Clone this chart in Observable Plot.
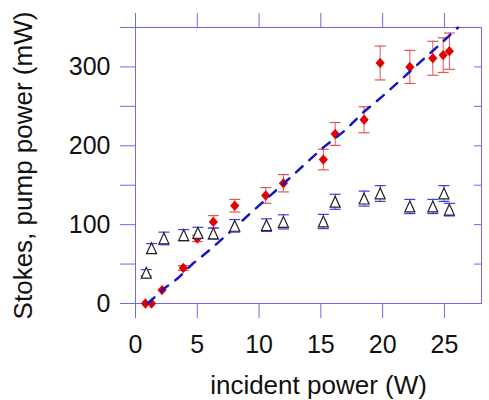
<!DOCTYPE html>
<html><head><meta charset="utf-8">
<script src="https://cdn.jsdelivr.net/npm/d3@7"></script>
<script src="https://cdn.jsdelivr.net/npm/@observablehq/plot@0.6"></script>
<style>body{margin:0;background:#fff}</style>
</head><body><div id="chart"></div>
<script>
// Stokes output (red diamonds)
const stokesX = [0.8, 1.3, 2.15, 3.87, 5.0, 6.3, 8.03, 10.54, 11.97, 15.2, 16.16, 18.5, 19.8, 22.2, 24.06, 24.9, 25.4];
const stokesY = [0, 0, 17, 45, 82.5, 103.5, 124, 137, 152.5, 182.5, 215, 233, 305, 300, 311, 315, 320];
const stokesErr = [0, 0, 0, 3, 4, 8, 8, 10, 11, 13, 14.5, 16.5, 21.5, 21, 21.5, 22, 23];
// residual pump (open triangles)
const pumpX = [0.87, 1.3, 2.3, 3.9, 5.05, 6.3, 8.03, 10.6, 11.97, 15.2, 16.16, 18.5, 19.8, 22.2, 24.06, 24.96, 25.4];
const pumpY = [39, 70, 82.5, 86.7, 89.6, 88.8, 98.5, 99.4, 103.5, 104, 129, 133, 139.5, 123, 123, 139.5, 119];
const pumpErr = [4, 6, 8, 7, 7, 7, 8, 8, 9, 9, 9.5, 9.5, 10, 9, 9, 10, 8];
// dashed model curve
const fitX = [1.0, 2.16, 3.5, 4.6, 6.1, 7.6, 9.2, 12.2, 13.8, 15.2, 17.0, 18.4, 20.0, 21.5, 23.1, 24.6, 26.1];
const fitY = [0, 17, 33, 50, 69, 90, 113, 155, 178, 198, 220, 242, 263, 284, 307, 328, 350];
// ticks
const xTicks = [0, 5, 10, 15, 20, 25];
const yTicks = [0, 50, 100, 150, 200, 250, 300, 350];
const yLabels = [0, 100, 200, 300];
const xLabel = "incident power (W)";
const yLabel = "Stokes, pump power (mW)";

const stokes = stokesX.map((x, i) => ({x, y: stokesY[i], e: stokesErr[i]}));
const pump = pumpX.map((x, i) => ({x, y: pumpY[i], e: pumpErr[i]}));
const fit = fitX.map((x, i) => ({x, y: fitY[i]}));

const axisColor = "#6b6be6";
const red = "#e30000";
const errRed = "#e05555";
const errBlue = "#3b3bee";
const lineBlue = "#1515c8";

const rad = s => Math.sqrt(s / Math.PI);
const diamond = {draw(ctx, size) { const r = rad(size); const hw = r * 1.15, hh = r * 1.3;
  ctx.moveTo(0, -hh); ctx.lineTo(hw, 0); ctx.lineTo(0, hh); ctx.lineTo(-hw, 0); ctx.closePath(); }};
const triangle = {draw(ctx, size) { const r = rad(size); const hw = r * 1.25, hh = r * 1.35;
  ctx.moveTo(0, -hh); ctx.lineTo(hw, hh); ctx.lineTo(-hw, hh); ctx.closePath(); }};
const cap = {draw(ctx, size) { const r = rad(size); ctx.moveTo(-r, 0); ctx.lineTo(r, 0); }};

const errMarks = (data, color) => {
  const d = data.filter(p => p.e > 0);
  return [
    Plot.ruleX(d, {x: "x", y1: p => p.y - p.e, y2: p => p.y + p.e, stroke: color, strokeWidth: 1}),
    Plot.dot(d, {x: "x", y: p => p.y + p.e, symbol: cap, r: 5.5, stroke: color, fill: "none", strokeWidth: 1.2}),
    Plot.dot(d, {x: "x", y: p => p.y - p.e, symbol: cap, r: 5.5, stroke: color, fill: "none", strokeWidth: 1.2})
  ];
};

const chart = Plot.plot({
  width: 489, height: 400,
  marginLeft: 135, marginRight: 8, marginTop: 27, marginBottom: 97,
  style: {fontFamily: "'Liberation Sans', Arial, sans-serif", background: "#fff"},
  x: {domain: [0, 28]},
  y: {domain: [0, 350]},
  marks: [
    Plot.frame({stroke: axisColor}),
    Plot.axisX({anchor: "bottom", ticks: xTicks, tickSize: 15, tickPadding: 17, fontSize: 25,
      stroke: axisColor, fill: "#111", label: null}),
    Plot.axisX({anchor: "top", ticks: xTicks, tickSize: 15, tickFormat: () => "", stroke: axisColor, label: null}),
    Plot.axisY({anchor: "left", ticks: yTicks, tickSize: 15, tickPadding: 10, fontSize: 25,
      tickFormat: d => yLabels.includes(d) ? String(d) : "", stroke: axisColor, fill: "#111", label: null}),
    Plot.axisY({anchor: "right", ticks: yTicks.slice(1, -1), tickSize: 8, dx: -8, tickFormat: () => "",
      stroke: axisColor, label: null}),
    ...errMarks(stokes, errRed),
    Plot.dot(stokes, {x: "x", y: "y", symbol: diamond, r: 4, fill: red, stroke: "none"}),
    Plot.line(fit, {x: "x", y: "y", stroke: lineBlue, strokeWidth: 2.5, strokeDasharray: "9,9"}),
    ...errMarks(pump, errBlue),
    Plot.dot(pump, {x: "x", y: "y", symbol: triangle, r: 4, stroke: "#222", fill: "white", strokeWidth: 1.2}),
    Plot.text([xLabel], {frameAnchor: "bottom", dx: 10, dy: 82, textAnchor: "middle", lineAnchor: "middle", fontSize: 26, fill: "#111"}),
    Plot.text([yLabel], {frameAnchor: "left", dx: -112, rotate: -90, textAnchor: "middle", lineAnchor: "middle", fontSize: 26, fill: "#111"})
  ]
});
document.getElementById("chart").appendChild(chart);
</script>
</body></html>
